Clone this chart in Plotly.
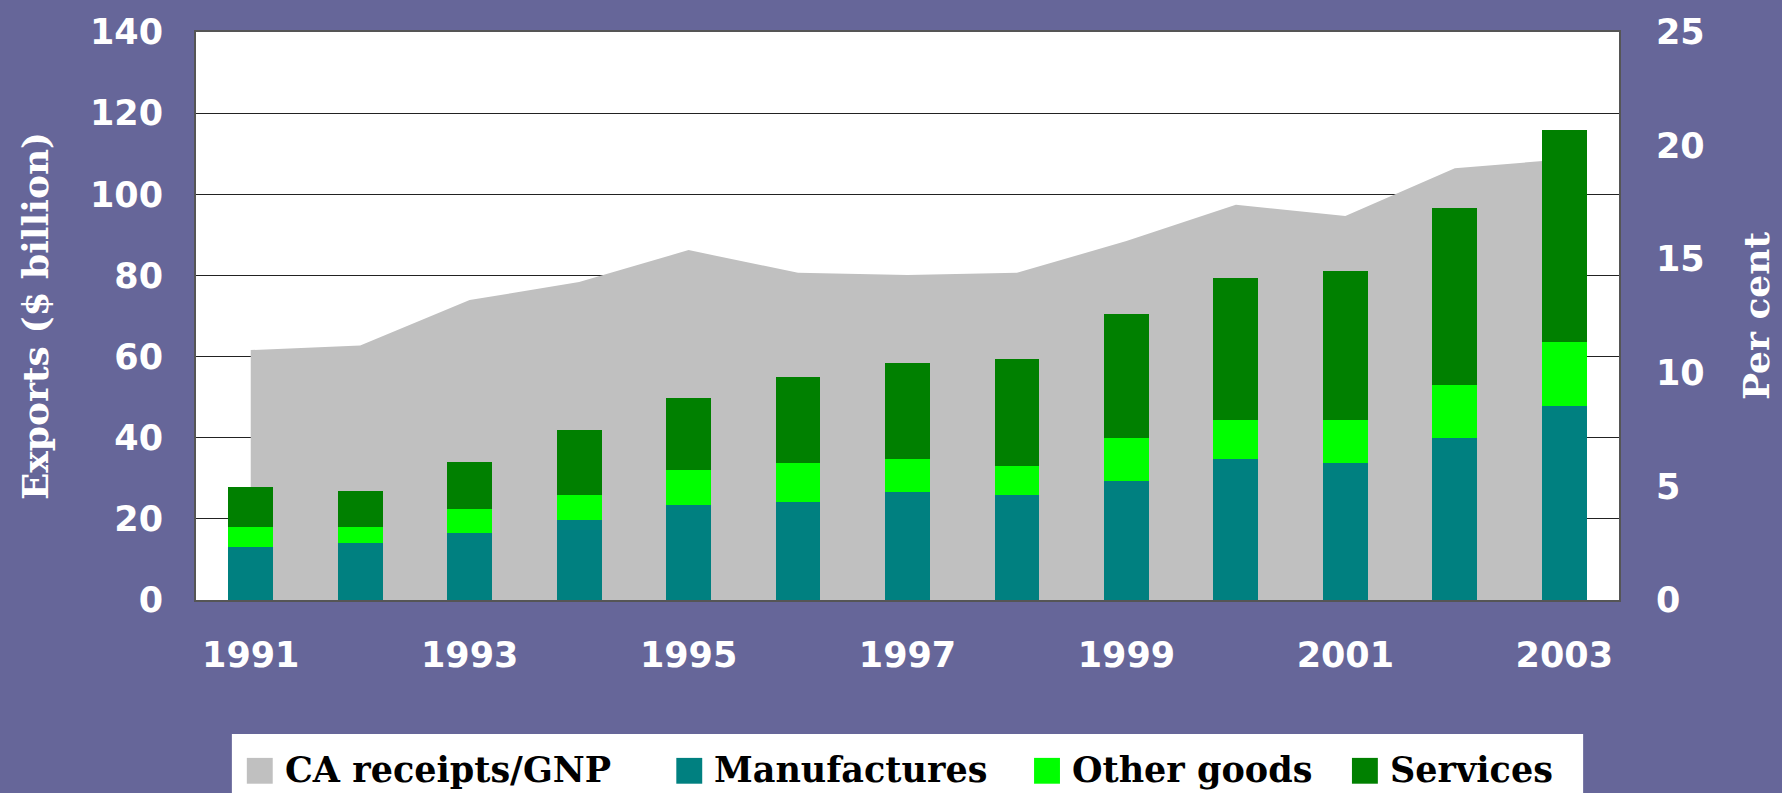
import plotly.graph_objects as go

# ---- data ----
years = [1991, 1992, 1993, 1994, 1995, 1996, 1997, 1998, 1999, 2000, 2001, 2002, 2003]
ca_receipts_gnp = [11.0, 11.2, 13.2, 14.0, 15.4, 14.4, 14.3, 14.4, 15.8, 17.4, 16.9, 19.0, 19.4]
manufactures = [13.0, 14.0, 16.4, 19.8, 23.3, 24.2, 26.7, 26.0, 29.4, 34.8, 33.8, 39.9, 47.8]
other_goods = [5.1, 4.1, 6.1, 6.2, 8.8, 9.6, 8.1, 7.1, 10.5, 9.5, 10.5, 13.0, 15.7]
services = [9.8, 8.8, 11.5, 15.9, 17.6, 21.1, 23.7, 26.2, 30.6, 35.0, 36.8, 43.6, 52.3]

tick_years = [1991, 1993, 1995, 1997, 1999, 2001, 2003]
left_ticks = [0, 20, 40, 60, 80, 100, 120, 140]
right_ticks = [0, 5, 10, 15, 20, 25]

series_names = ["CA receipts/GNP", "Manufactures", "Other goods", "Services"]
series_colors = ["#C0C0C0", "#008080", "#00FF00", "#008000"]

# ---- styling ----
W, H = 1782, 793
ML, MR, MT, MB = 196, 158, 28, 193
BG = "#666699"
tick_font = dict(family="DejaVu Sans", size=35, color="white", weight="bold")
title_font = dict(family="DejaVu Serif", size=36, color="white", weight="bold")
legend_font = dict(family="DejaVu Serif", size=35, color="black", weight="bold")
frame = "#555555"

fig = go.Figure()

fig.add_trace(go.Scatter(
    x=years, y=ca_receipts_gnp, name=series_names[0], mode="none",
    fill="tozeroy", fillcolor=series_colors[0], yaxis="y", showlegend=False,
))
for name, vals, col in zip(series_names[1:], [manufactures, other_goods, services], series_colors[1:]):
    fig.add_trace(go.Bar(
        x=years, y=vals, name=name, marker=dict(color=col, line=dict(width=0)),
        width=0.41, yaxis="y2", showlegend=False,
    ))

fig.update_layout(
    width=W, height=H,
    margin=dict(l=ML, r=MR, t=MT, b=MB, pad=0),
    paper_bgcolor=BG, plot_bgcolor="white",
    barmode="stack",
    xaxis=dict(
        range=[1990.5, 2003.5], tickmode="array", tickvals=tick_years,
        ticktext=[str(y) for y in tick_years],
        tickfont=tick_font, showgrid=False, zeroline=False,
        showline=True, linecolor=frame, linewidth=2, mirror=True,
        ticks="", ticklabelstandoff=23,
    ),
    yaxis=dict(
        side="right", range=[0, 25], tickmode="array", tickvals=right_ticks,
        tickfont=tick_font, showgrid=False, zeroline=False,
        showline=True, linecolor=frame, linewidth=2, mirror=True,
        ticks="", ticklabelstandoff=28,
        title=dict(text="Per cent", font=title_font, standoff=40),
    ),
    yaxis2=dict(
        overlaying="y", side="left", range=[0, 140], tickmode="array",
        tickvals=left_ticks, tickfont=tick_font,
        showgrid=True, gridcolor="#222222", gridwidth=1.3, zeroline=False,
        showline=False, ticks="", ticklabelstandoff=32,
        title=dict(text="Exports ($ billion)", font=title_font, standoff=30),
    ),
)

# ---- legend (drawn as a white box with swatches and labels) ----
pw = W - ML - MR
ph = H - MT - MB
def px(xpix):
    return (xpix - ML) / pw
def py(ypix):
    return (H - MB - ypix) / ph

fig.add_shape(type="rect", xref="paper", yref="paper",
              x0=px(232), x1=px(1588), y0=py(800), y1=py(735),
              fillcolor="white", line=dict(width=0), layer="above")

item_x = [247, 678, 1037, 1356]
sw = 26
for name, col, x0 in zip(series_names, series_colors, item_x):
    fig.add_shape(type="rect", xref="paper", yref="paper",
                  x0=px(x0), x1=px(x0 + sw), y0=py(785), y1=py(759),
                  fillcolor=col, line=dict(width=0), layer="above")
    fig.add_annotation(xref="paper", yref="paper", x=px(x0 + sw + 10), y=py(771),
                       text=name, showarrow=False, xanchor="left", yanchor="middle",
                       font=legend_font)

fig.write_html(
    "out.html",
    config={"displayModeBar": False},
    post_script="document.body.style.margin='0';document.body.style.overflow='hidden';",
)
